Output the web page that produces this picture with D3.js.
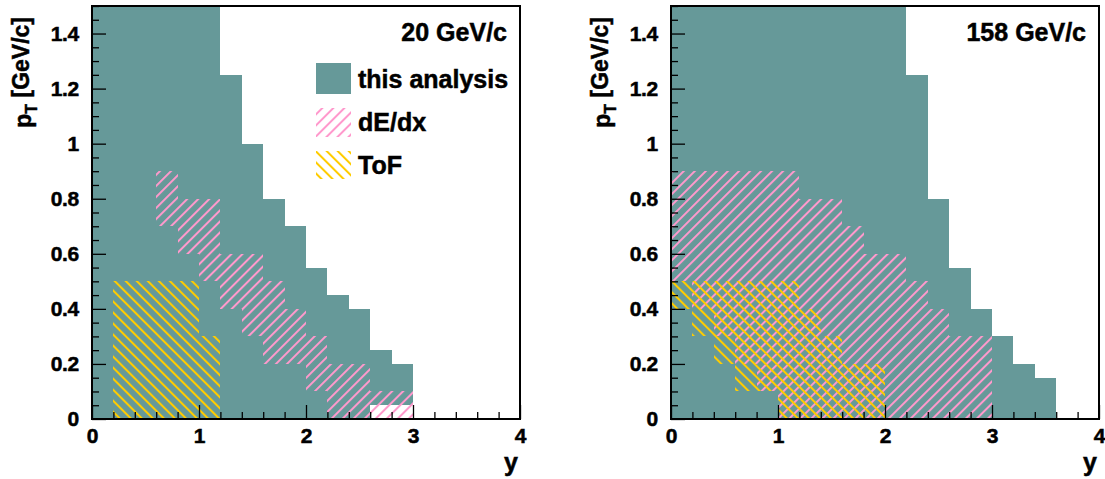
<!DOCTYPE html>
<html><head><meta charset="utf-8">
<script src="https://cdn.jsdelivr.net/npm/d3@7"></script>
<style>
body{margin:0;background:#fff}
text{font-family:"Liberation Sans",Arial,Helvetica,sans-serif;font-weight:bold;fill:#000;stroke:#000;stroke-width:0.5px}
</style>
</head><body>
<svg id="c" width="1105" height="479"></svg>
<script>
// ---------- data ----------
const binWidth = 0.2;
// 20 GeV/c
const analysis20Y  = [0,0.2,0.4,0.6,0.8,1.0,1.2,1.4,1.6,1.8,2.0,2.2,2.4,2.6,2.8];
const analysis20Lo = [0,0,0,0,0,0,0,0,0,0,0,0,0,0.05,0.05];
const analysis20Hi = [1.5,1.5,1.5,1.5,1.5,1.5,1.25,1.0,0.8,0.7,0.55,0.45,0.4,0.25,0.2];
const dedx20Y  = [0.6,0.8,1.0,1.2,1.4,1.6,1.8,2.0,2.2,2.4,2.6,2.8];
const dedx20Lo = [0.7,0.6,0.5,0.4,0.3,0.2,0.2,0.1,0,0,0,0];
const dedx20Hi = [0.9,0.8,0.8,0.6,0.6,0.5,0.4,0.3,0.2,0.2,0.1,0.1];
const tof20Y  = [0.2,0.4,0.6,0.8,1.0];
const tof20Lo = [0,0,0,0,0];
const tof20Hi = [0.5,0.5,0.5,0.5,0.3];
// 158 GeV/c
const analysis158Y  = [0,0.2,0.4,0.6,0.8,1.0,1.2,1.4,1.6,1.8,2.0,2.2,2.4,2.6,2.8,3.0,3.2,3.4];
const analysis158Lo = [0,0,0,0,0,0,0,0,0,0,0,0,0,0,0,0,0,0];
const analysis158Hi = [1.5,1.5,1.5,1.5,1.5,1.5,1.5,1.5,1.5,1.5,1.5,1.25,0.8,0.55,0.4,0.3,0.2,0.15];
const dedx158Y  = [0,0.2,0.4,0.6,0.8,1.0,1.2,1.4,1.6,1.8,2.0,2.2,2.4,2.6,2.8];
const dedx158Lo = [0.5,0.4,0.3,0.2,0.1,0,0,0,0,0,0,0,0,0,0];
const dedx158Hi = [0.9,0.9,0.9,0.9,0.9,0.9,0.8,0.8,0.7,0.6,0.6,0.5,0.4,0.3,0.3];
const tof158Y  = [0,0.2,0.4,0.6,0.8,1.0,1.2,1.4,1.6,1.8];
const tof158Lo = [0.4,0.3,0.2,0.1,0.1,0,0,0,0,0];
const tof158Hi = [0.5,0.5,0.5,0.5,0.5,0.5,0.4,0.3,0.2,0.2];

const xMajorTicks = [0,1,2,3,4];
const xTickLabels = ["0","1","2","3","4"];
const yMajorTicks = [0,0.2,0.4,0.6,0.8,1.0,1.2,1.4];
const yTickLabels = ["0","0.2","0.4","0.6","0.8","1","1.2","1.4"];
const legendLabels = ["this analysis","dE/dx","ToF"];
const panelTitles = ["20 GeV/c","158 GeV/c"];

// ---------- drawing ----------
const svg = d3.select("#c");
const defs = svg.append("defs");
function hatch(id, color, angle){
  const p = defs.append("pattern").attr("id",id).attr("patternUnits","userSpaceOnUse")
    .attr("width",7.8).attr("height",20).attr("patternTransform",`rotate(${angle})`);
  p.append("rect").attr("x",0).attr("y",0).attr("width",2).attr("height",20).attr("fill",color);
}
const TEAL="#669999", PINK="#ff99cc", YEL="#ffcc00";
hatch("pinkH", PINK, 45);
hatch("yelH", YEL, -45);

const PW = 428, PH = 413, PTOP = 6;
function panel(left, data, title, showLegend){
  const g = svg.append("g").attr("transform",`translate(${left},${PTOP})`);
  const x = d3.scaleLinear().domain([0,4]).range([0,PW]);
  const y = d3.scaleLinear().domain([0,1.5]).range([PH,0]);
  const layer = (ys, lo, hi, fill) => g.append("g").selectAll("rect")
    .data(ys.map((v,i)=>({x0:v,lo:lo[i],hi:hi[i]})))
    .join("rect")
    .attr("x",d=>x(d.x0)).attr("width",d=>x(d.x0+binWidth)-x(d.x0))
    .attr("y",d=>y(d.hi)).attr("height",d=>y(d.lo)-y(d.hi))
    .attr("fill",fill).attr("shape-rendering","crispEdges");
  layer(data.aY, data.aLo, data.aHi, TEAL);
  layer(data.dY, data.dLo, data.dHi, "url(#pinkH)");
  layer(data.tY, data.tLo, data.tHi, "url(#yelH)");

  // axes with inward ticks
  const xMinor = d3.range(0,4.0001,0.2).filter(v=>Math.abs(v-Math.round(v))>1e-6);
  const yMinor = d3.range(0,1.5001,0.05).filter(v=>Math.abs(v/0.2-Math.round(v/0.2))>1e-6);
  const ax = g.append("g").attr("transform",`translate(0,${PH})`)
    .call(d3.axisBottom(x).tickValues(xMajorTicks).tickSize(-14).tickPadding(9)
      .tickFormat((d,i)=>xTickLabels[i]));
  const axm = g.append("g").attr("transform",`translate(0,${PH})`)
    .call(d3.axisBottom(x).tickValues(xMinor).tickSize(-7).tickFormat(""));
  const ay = g.append("g")
    .call(d3.axisLeft(y).tickValues(yMajorTicks).tickSize(-14).tickPadding(13)
      .tickFormat((d,i)=>yTickLabels[i]));
  const aym = g.append("g")
    .call(d3.axisLeft(y).tickValues(yMinor).tickSize(-7).tickFormat(""));
  [ax,axm,ay,aym].forEach(a=>{
    a.select(".domain").remove();
    a.attr("font-size",null).attr("font-family",null);
    a.selectAll("line").attr("stroke","#000").attr("stroke-width",1.3);
    a.selectAll("text").style("font-size","21px").style("letter-spacing","-0.3px").attr("fill","#000");
  });
  // frame
  g.append("rect").attr("x",0).attr("y",0).attr("width",PW).attr("height",PH)
    .attr("fill","none").attr("stroke","#000").attr("stroke-width",2);

  // axis titles
  g.append("text").attr("x",PW-2).attr("y",471-PTOP).attr("text-anchor","end")
    .style("font-size","25px").text("y");
  const yt = g.append("text").attr("transform",`translate(-61,11) rotate(-90)`)
    .attr("text-anchor","end").style("font-size","23px");
  yt.append("tspan").text("p");
  yt.append("tspan").style("font-size","16px").attr("dy","0.35em").text("T");
  yt.append("tspan").attr("dy","-0.35em").text(" [GeV/c]");

  // panel title
  g.append("text").attr("x",PW-13).attr("y",41-PTOP).attr("text-anchor","end")
    .style("font-size","25px").text(title);

  if(showLegend){
    const fills=[TEAL,"url(#pinkH)","url(#yelH)"];
    const boxY=[63,108,151], boxH=[31,29,28], baseY=[88,131,174];
    legendLabels.forEach((lab,i)=>{
      g.append("rect").attr("x",316-left).attr("y",boxY[i]-PTOP).attr("width",35).attr("height",boxH[i])
        .attr("fill",fills[i]);
      g.append("text").attr("x",358-left).attr("y",baseY[i]-PTOP).style("font-size","25px").text(lab);
    });
  }
}
panel(92,{aY:analysis20Y,aLo:analysis20Lo,aHi:analysis20Hi,dY:dedx20Y,dLo:dedx20Lo,dHi:dedx20Hi,tY:tof20Y,tLo:tof20Lo,tHi:tof20Hi},panelTitles[0],true);
panel(671,{aY:analysis158Y,aLo:analysis158Lo,aHi:analysis158Hi,dY:dedx158Y,dLo:dedx158Lo,dHi:dedx158Hi,tY:tof158Y,tLo:tof158Lo,tHi:tof158Hi},panelTitles[1],false);
</script>
</body></html>
